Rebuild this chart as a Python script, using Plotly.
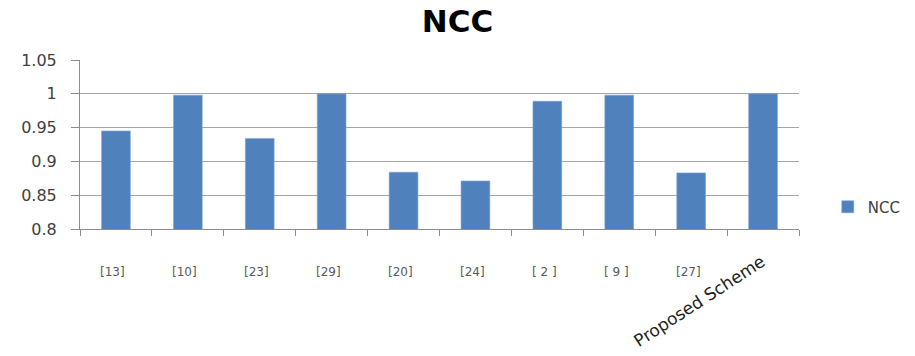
import plotly.graph_objects as go

categories = ["[13]", "[10]", "[23]", "[29]", "[20]", "[24]", "[ 2 ]", "[ 9 ]", "[27]", "Proposed Scheme"]
ncc_values = [0.945, 0.998, 0.934, 1.0, 0.884, 0.871, 0.989, 0.998, 0.883, 1.0]
series_name = "NCC"

fig = go.Figure()
fig.add_trace(go.Bar(
    x=categories, y=ncc_values, name=series_name,
    marker=dict(color="#4F81BD", line=dict(color="#7FA3D0", width=0.6)),
    showlegend=True,
))

annotations = []
for c in categories:
    if c == "Proposed Scheme":
        annotations.append(dict(
            x=c, xref="x", y=0, yref="paper", text=c, showarrow=False,
            textangle=-33, xanchor="right", yanchor="top", yshift=-19, xshift=8,
            font=dict(family="DejaVu Sans, sans-serif", size=17, color="#222222"),
        ))
    else:
        annotations.append(dict(
            x=c, xref="x", y=0, yref="paper", text=c, showarrow=False,
            xanchor="center", yanchor="middle", yshift=-43, xshift=-3,
            font=dict(family="DejaVu Sans, sans-serif", size=12, color="#595959"),
        ))

fig.update_layout(
    width=915, height=356,
    margin=dict(l=80, r=116, t=60, b=127, autoexpand=False),
    paper_bgcolor="white", plot_bgcolor="white",
    title=dict(text="<b>NCC</b>", x=0.5, xanchor="center", y=0.94, yanchor="middle",
               font=dict(family="DejaVu Sans, sans-serif", size=31, color="black")),
    bargap=0.6,
    xaxis=dict(
        type="category", showticklabels=False, showgrid=False,
        showline=True, linecolor="#8c8c8c", linewidth=1,
        ticks="outside", tickson="boundaries", ticklen=6, tickcolor="#8c8c8c",
    ),
    yaxis=dict(
        range=[0.8, 1.05], dtick=0.05, tick0=0.8,
        showgrid=True, gridcolor="#a6a6a6", gridwidth=1,
        showline=True, linecolor="#8c8c8c", linewidth=1,
        ticks="outside", ticklen=8, tickcolor="#8c8c8c",
        ticklabelstandoff=11,
        tickfont=dict(family="DejaVu Sans, sans-serif", size=16, color="#404040"),
        zeroline=False,
    ),
    legend=dict(x=1.04, xanchor="left", xref="paper", y=0.13, yanchor="middle",
                font=dict(family="DejaVu Sans, sans-serif", size=15, color="#404040"),
                itemwidth=30, bgcolor="rgba(0,0,0,0)"),
    annotations=annotations,
)

fig.write_html("out.html")
